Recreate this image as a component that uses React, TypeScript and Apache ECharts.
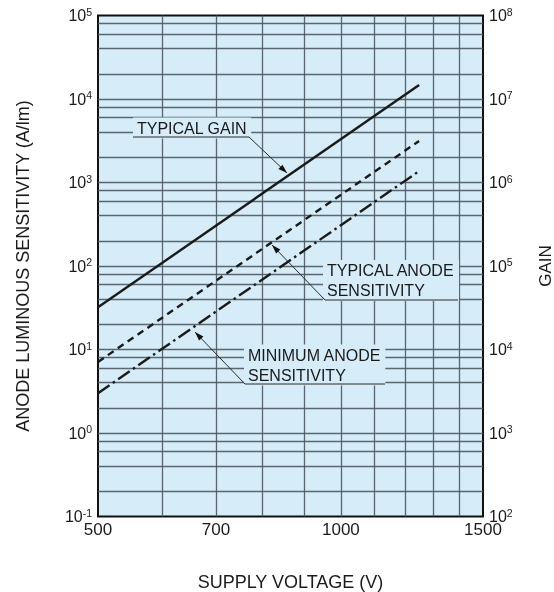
import React, { useEffect, useRef } from "react";
import * as echarts from "echarts";

// Supply voltage (V) at the two ends of each characteristic line
const supplyVoltage = [500, 1250];
// Typical gain, read on the right-hand GAIN axis
const typicalGain = [3.2e4, 1.47e7];
// Anode luminous sensitivity (A/lm), read on the left-hand axis
const typicalAnodeSensitivity = [7.1, 3140];
const minimumAnodeSensitivity = [3.0, 1370];

// Axis ticks and grid
const voltageTickLabels = [500, 700, 1000, 1500];
const voltageGridLines = [600, 700, 800, 900, 1000, 1100, 1200, 1300, 1400];
const sensitivityDecades = [-1, 0, 1, 2, 3, 4];
const decadeSubdivisions = [1, 2, 4, 6, 8];

const FONT = '"Liberation Sans", Arial, Helvetica, sans-serif';
const PLOT_BG = "#d6ecf9";
const GRID_COLOR = "#4d5961";
const INK = "#1a1a1a";

const powerLabel = (value: number) => {
  const exp = Math.round(Math.log10(value));
  return `{b|10}{s|${exp}}`;
};

const powerRich = {
  b: { fontSize: 16, fontFamily: FONT, color: INK, lineHeight: 19 },
  s: { fontSize: 10.5, fontFamily: FONT, color: INK, lineHeight: 11, verticalAlign: "top" },
};

const horizontalGrid: number[] = [];
sensitivityDecades.forEach((k) =>
  decadeSubdivisions.forEach((d) => {
    const v = d * Math.pow(10, k);
    if (v > 0.1) horizontalGrid.push(v);
  })
);

function arrowHead(tip: number[], from: number[], len = 9, half = 3) {
  const dx = tip[0] - from[0];
  const dy = tip[1] - from[1];
  const l = Math.hypot(dx, dy);
  const ux = dx / l;
  const uy = dy / l;
  const bx = tip[0] - ux * len;
  const by = tip[1] - uy * len;
  return [
    [tip[0], tip[1]],
    [bx - uy * half, by + ux * half],
    [bx + uy * half, by - ux * half],
  ];
}

function callout(text: string, x: number, y: number, path: number[][]) {
  const tip = path[path.length - 1];
  const from = path[path.length - 2];
  return [
    {
      type: "text",
      z: 20,
      x,
      y,
      style: {
        text,
        fontFamily: FONT,
        fontSize: 16,
        lineHeight: 20,
        fill: INK,
        align: "left",
        verticalAlign: "middle",
        backgroundColor: PLOT_BG,
        padding: [1, 4, 0, 4],
      },
    },
    {
      type: "polyline",
      z: 21,
      shape: { points: path },
      style: { stroke: "#2a2a2a", lineWidth: 1, fill: null },
    },
    {
      type: "polygon",
      z: 21,
      shape: { points: arrowHead(tip, from) },
      style: { fill: "#111" },
    },
  ];
}

export default function App() {
  const ref = useRef<HTMLDivElement>(null);

  useEffect(() => {
    const el = ref.current;
    if (!el) return;
    const chart = echarts.init(el, null, { renderer: "svg" });

    const option: any = {
      animation: false,
      grid: {
        left: 98,
        right: 71,
        top: 15.5,
        bottom: 75.5,
        outerBoundsMode: "none",
        containLabel: false,
        show: true,
        backgroundColor: PLOT_BG,
        borderColor: "#111",
        borderWidth: 2,
      },
      xAxis: {
        type: "log",
        logBase: 10,
        min: 500,
        max: 1500,
        axisLine: { show: false },
        axisTick: { show: false },
        axisLabel: { show: false },
        splitLine: { show: false },
        name: "SUPPLY VOLTAGE (V)",
        nameLocation: "middle",
        nameGap: 56,
        nameTextStyle: { fontSize: 18, color: INK, fontFamily: FONT },
      },
      yAxis: [
        {
          type: "log",
          logBase: 10,
          min: 0.1,
          max: 1e5,
          splitNumber: 6,
          position: "left",
          axisLine: { show: false },
          axisTick: { show: false },
          splitLine: { show: false },
          axisLabel: {
            margin: 6,
            showMinLabel: true,
            showMaxLabel: true,
            formatter: powerLabel,
            rich: powerRich,
          },
          name: "ANODE LUMINOUS SENSITIVITY (A/lm)",
          nameLocation: "middle",
          nameRotate: 90,
          nameGap: 66,
          nameTextStyle: { fontSize: 18, color: INK, fontFamily: FONT },
        },
        {
          type: "log",
          logBase: 10,
          min: 1e2,
          max: 1e8,
          splitNumber: 6,
          position: "right",
          axisLine: { show: false },
          axisTick: { show: false },
          splitLine: { show: false },
          axisLabel: {
            margin: 6,
            showMinLabel: true,
            showMaxLabel: true,
            formatter: powerLabel,
            rich: powerRich,
          },
          name: "GAIN",
          nameLocation: "middle",
          nameRotate: 90,
          nameGap: 54,
          nameTextStyle: { fontSize: 17, color: INK, fontFamily: FONT },
        },
      ],
      series: [
        {
          type: "line",
          name: "grid",
          data: [],
          silent: true,
          z: 1,
          markLine: {
            silent: true,
            symbol: ["none", "none"],
            label: { show: false },
            emphasis: { disabled: true },
            lineStyle: { color: GRID_COLOR, width: 1.3, type: "solid", opacity: 0.9 },
            data: [
              ...horizontalGrid.map((v) => ({ yAxis: v })),
              ...voltageGridLines.map((v) => ({ xAxis: v })),
            ],
          },
        },
        {
          type: "line",
          name: "TYPICAL GAIN",
          yAxisIndex: 1,
          symbol: "none",
          z: 5,
          data: supplyVoltage.map((v, i) => [v, typicalGain[i]]),
          lineStyle: { color: INK, width: 2.4 },
        },
        {
          type: "line",
          name: "TYPICAL ANODE SENSITIVITY",
          yAxisIndex: 0,
          symbol: "none",
          z: 5,
          data: supplyVoltage.map((v, i) => [v, typicalAnodeSensitivity[i]]),
          lineStyle: { color: INK, width: 2.4, type: [7, 5] },
        },
        {
          type: "line",
          name: "MINIMUM ANODE SENSITIVITY",
          yAxisIndex: 0,
          symbol: "none",
          z: 5,
          data: supplyVoltage.map((v, i) => [v, minimumAnodeSensitivity[i]]),
          lineStyle: { color: INK, width: 2.4, type: [14, 4, 2.5, 4] },
        },
      ],
    };

    chart.setOption(option);

    const yBottom = chart.convertToPixel({ yAxisIndex: 0 }, 0.1) as number;
    const tickTexts = voltageTickLabels.map((v) => ({
      type: "text",
      z: 20,
      x: chart.convertToPixel({ xAxisIndex: 0 }, v) as number,
      y: yBottom + 6,
      style: {
        text: String(v),
        fontFamily: FONT,
        fontSize: 17,
        lineHeight: 14,
        fill: INK,
        align: "center",
        verticalAlign: "top",
      },
    }));

    const callouts = [
      ...callout("TYPICAL GAIN", 133, 128, [
        [133, 137],
        [249, 137],
        [287, 173],
      ]),
      ...callout("TYPICAL ANODE\nSENSITIVITY", 323, 280.5, [
        [458, 300],
        [325, 300],
        [272, 245],
      ]),
      ...callout("MINIMUM ANODE\nSENSITIVITY", 244, 365, [
        [385, 384],
        [245, 384],
        [195, 332],
      ]),
    ];

    chart.setOption({ graphic: [...tickTexts, ...callouts] });

    return () => chart.dispose();
  }, []);

  return (
    <div
      ref={ref}
      style={{ position: "fixed", left: 0, top: 0, width: 554, height: 592 }}
    />
  );
}
